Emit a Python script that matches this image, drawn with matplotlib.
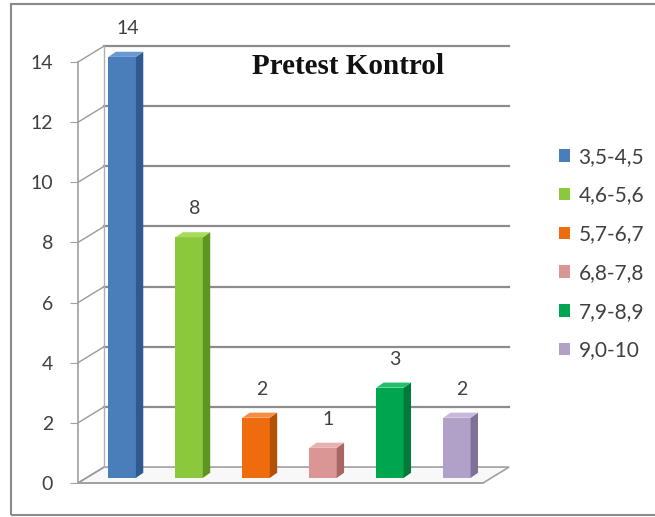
import matplotlib
matplotlib.use("Agg")
import matplotlib.pyplot as plt
from matplotlib.patches import Polygon, Rectangle, Patch

# frequency of pretest scores, control group
categories = ["3,5-4,5", "4,6-5,6", "5,7-6,7", "6,8-7,8", "7,9-8,9", "9,0-10"]
counts = [14, 8, 2, 1, 3, 2]
yticks = [0, 2, 4, 6, 8, 10, 12, 14]
title = "Pretest Kontrol"

front_colors = ["#4a7ebb", "#8cc83c", "#ef6c0e", "#d99694", "#00a54f", "#b1a0c7"]
side_colors = ["#2f5a8f", "#5e9520", "#b35106", "#a86664", "#00793a", "#7f7098"]
top_colors = ["#6a98d2", "#a6dc5c", "#f58e42", "#e6b0ae", "#22c06c", "#c7b9da"]

W, H = 655, 517
fig = plt.figure(figsize=(W / 100, H / 100), dpi=100)

# front plane of the 3D box, in pixel extents
left, right, bottom, top = 78, 483, 483, 62
ax = fig.add_axes([left / W, 1 - bottom / H, (right - left) / W, (bottom - top) / H])
x0, x1 = -0.66, 5.39
ax.set_xlim(x0, x1)
ax.set_ylim(0, 14)

grid_col = "#8c8c8c"
DX, DY = 0.39, 0.53      # back wall offset
dx, dy = 0.11, 0.17      # bar depth
B0 = 0.17                # bars sit in the middle of the floor

# floor
floor = Polygon([(x0, 0), (x1, 0), (x1 + DX, DY), (x0 + DX, DY)], closed=True,
                facecolor="#f8f8f8", edgecolor="#a0a0a0", lw=1.2, clip_on=False, zorder=1)
ax.add_patch(floor)

# back wall gridlines plus the slanted links to the side wall
for t in yticks[1:]:
    ax.plot([x0 + DX, x1 + DX], [t + DY, t + DY], color=grid_col, lw=1.6,
            clip_on=False, zorder=1)
for t in yticks:
    ax.plot([x0, x0 + DX], [t, t + DY], color="#9a9a9a", lw=1.0,
            clip_on=False, zorder=1)
ax.plot([x0 + DX, x0 + DX], [DY, 14 + DY], color="#b0b0b0", lw=1.0,
        clip_on=False, zorder=1)

xs = list(range(len(counts)))
bars = ax.bar(xs, counts, width=0.41, bottom=B0, color=front_colors,
              edgecolor="none", zorder=3, clip_on=False)

for rect, v, sc, tc in zip(bars, counts, side_colors, top_colors):
    bx, bw = rect.get_x(), rect.get_width()
    by, bh = rect.get_y(), rect.get_height()
    ytop = by + bh
    side = Polygon([(bx + bw, by), (bx + bw + dx, by + dy),
                    (bx + bw + dx, ytop + dy), (bx + bw, ytop)],
                   closed=True, facecolor=sc, edgecolor="none", zorder=3, clip_on=False)
    cap = Polygon([(bx, ytop), (bx + bw, ytop), (bx + bw + dx, ytop + dy),
                   (bx + dx, ytop + dy)],
                  closed=True, facecolor=tc, edgecolor="none", zorder=3, clip_on=False)
    ax.add_patch(side)
    ax.add_patch(cap)
    ax.text(bx + bw / 2 + 0.08, ytop + 0.95, str(v), ha="center", va="center",
            fontsize=14, color="#404040", family="Lato", clip_on=False)

ax.text(3.37, 13.85, title, ha="center", va="center", fontsize=21,
        fontweight="bold", family="Liberation Serif", color="#111111")

for s in ["top", "right"]:
    ax.spines[s].set_visible(False)
ax.spines["left"].set_color("#a0a0a0")
ax.spines["bottom"].set_color("#a0a0a0")
ax.spines["left"].set_linewidth(1.2)
ax.spines["bottom"].set_linewidth(1.2)
ax.set_xticks([])
ax.set_yticks(yticks)
ax.tick_params(axis="y", length=6, color="#a0a0a0", pad=12, labelsize=14,
               labelcolor="#404040")
for lab in ax.get_yticklabels():
    lab.set_family("Lato")
ax.patch.set_alpha(0)

# legend
handles = [Patch(facecolor=c, edgecolor="none") for c in front_colors]
leg = fig.legend(handles, categories, loc="upper left",
                 bbox_to_anchor=(540 / W, 1 - 128 / H), frameon=False,
                 handlelength=0.55, handleheight=0.55, handletextpad=0.4,
                 labelspacing=0.9, prop={"family": "Lato", "size": 15})
for t in leg.get_texts():
    t.set_color("#404040")

# chart area border
fig.patches.append(Rectangle((11 / W, 2 / H), 1.2, 1 - 6 / H,
                             transform=fig.transFigure, fill=False,
                             edgecolor="#8a8a8a", lw=1.5))

fig.savefig("out.png", dpi=100)
